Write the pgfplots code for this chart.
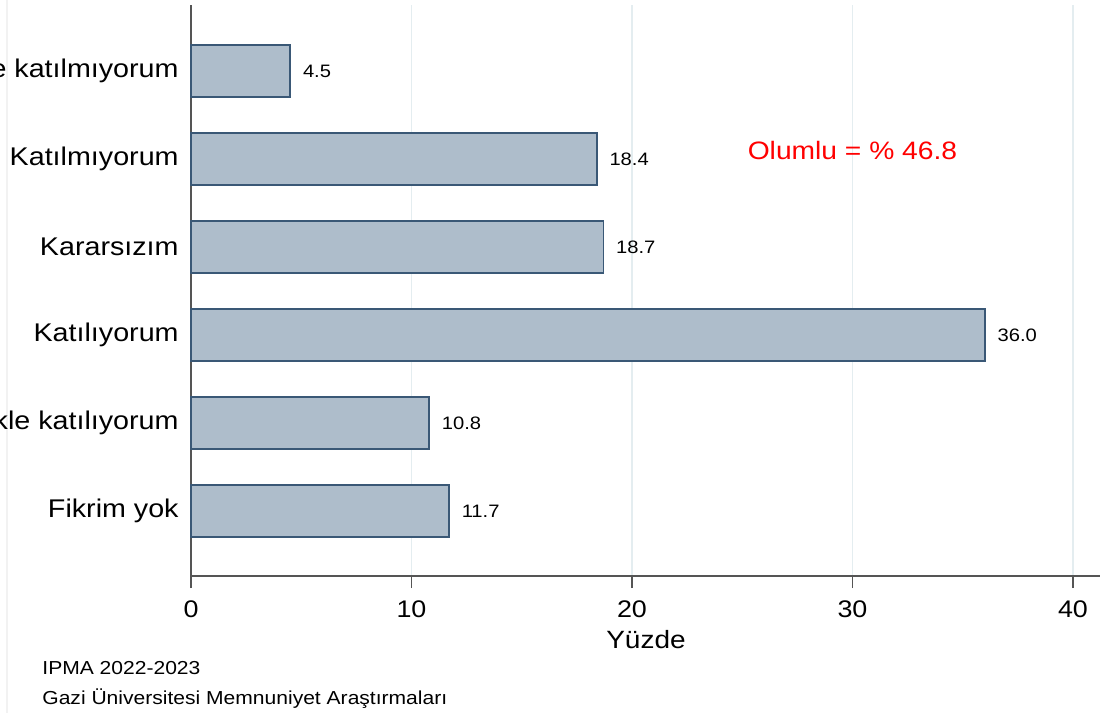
\documentclass[border=0pt]{standalone}
\usepackage{fontspec}
\setmainfont{Liberation Sans}[FakeStretch=1.12]
\usepackage{pgfplots}
\pgfplotsset{compat=1.18}
\definecolor{barfill}{RGB}{174,189,203}
\definecolor{barline}{RGB}{58,88,118}
\definecolor{gridc}{RGB}{228,237,240}
\definecolor{axisc}{RGB}{85,85,85}
\begin{document}
\begin{tikzpicture}
\useasboundingbox (-95.5pt,-68.5pt) rectangle (454.5pt,288pt);
\clip (-95.5pt,-68.5pt) rectangle (454.5pt,288pt);
\draw[gray!10, line width=0.6pt] (-92pt,288pt) -- (-92pt,-68.5pt);
\begin{axis}[
  at={(0pt,0pt)}, anchor=south west, scale only axis,
  width=455pt, height=285.5pt,
  xmin=0, xmax=41.27, ymin=0.261, ymax=6.75,
  xbar, bar width=26pt,
  axis x line*=bottom, axis y line*=left,
  axis line style={axisc, line width=1pt},
  xtick={0,10,20,30,40},
  ytick={1,2,3,4,5,6},
  yticklabels={Fikrim yok, Kesinlikle katılıyorum, Katılıyorum, Kararsızım, Katılmıyorum, Kesinlikle katılmıyorum},
  tick align=outside, major tick length=6pt,
  major x tick style={axisc, line width=0.8pt},
  major y tick style={draw=none},
  xmajorgrids, grid style={gridc, line width=0.7pt},
  /pgf/number format/assume math mode=true,
  x tick label style={font=\fontsize{12}{14}\selectfont, inner sep=0pt, anchor=north, yshift=-6pt},
  y tick label style={font=\fontsize{12.8}{15}\selectfont, inner sep=0pt, anchor=east},
  yticklabel shift=0pt,
  xlabel={Yüzde},
  xlabel style={font=\fontsize{12.5}{15}\selectfont, at={(axis description cs:0.5,0)}, anchor=base, inner sep=0pt, yshift=-36pt},
  point meta=x,
  nodes near coords={\pgfmathprintnumber[fixed,fixed zerofill,precision=1]{\pgfplotspointmeta}},
  nodes near coords style={font=\fontsize{9}{11}\selectfont, anchor=west, inner sep=0pt, xshift=6pt, black},
  clip=false,
]
\addplot[fill=barfill, draw=barline, line width=0.8pt] coordinates {
  (11.7,1) (10.8,2) (36.0,3) (18.7,4) (18.4,5) (4.5,6)
};
\node[red, font=\fontsize{12.6}{15}\selectfont, anchor=center, inner sep=0pt] at (axis cs:30,5.1) {Olumlu = \% 46.8};
\end{axis}
\node[anchor=base west, inner sep=0pt, font=\fontsize{9.4}{12}\selectfont] at (-74.5pt,-49.5pt) {IPMA 2022-2023};
\node[anchor=base west, inner sep=0pt, font=\fontsize{9.4}{12}\selectfont] at (-74.5pt,-64pt) {Gazi Üniversitesi Memnuniyet Araştırmaları};
\end{tikzpicture}
\end{document}
